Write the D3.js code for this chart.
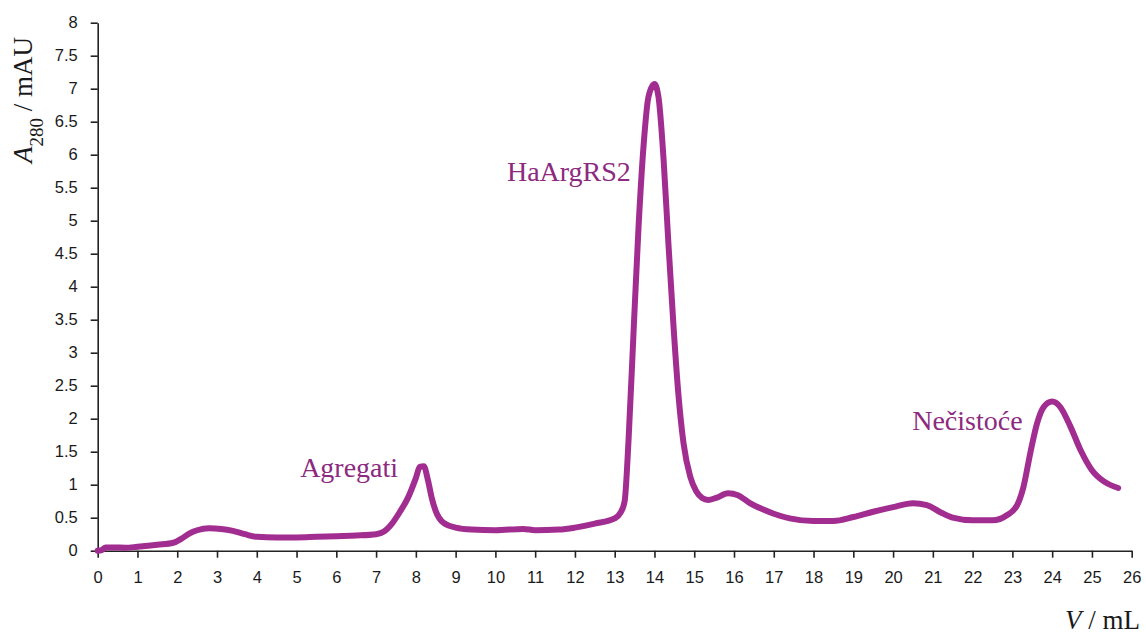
<!DOCTYPE html>
<html>
<head>
<meta charset="utf-8">
<script src="https://cdn.jsdelivr.net/npm/d3@7"></script>
<style>
  html, body { margin: 0; padding: 0; background: #fff; }
  svg { display: block; }
</style>
</head>
<body>
<svg id="chart" width="1146" height="637"></svg>
<script>
// Elution volume (mL)
const volume = [0, 0.1, 0.2, 0.4, 0.7, 1.0, 1.5, 1.9, 2.1, 2.3, 2.5, 2.8, 3.1, 3.4, 3.7, 4.0, 4.5, 5.0, 5.5, 6.0, 6.5, 7.0, 7.2, 7.4, 7.6, 7.8, 8.0, 8.1, 8.2, 8.3, 8.4, 8.5, 8.7, 9.0, 9.4, 10.0, 10.7, 11.0, 11.6, 12.0, 12.5, 13.0, 13.15, 13.25, 13.35, 13.48, 13.6, 13.73, 13.85, 14.0, 14.1, 14.23, 14.35, 14.48, 14.6, 14.73, 14.9, 15.05, 15.2, 15.35, 15.55, 15.85, 16.1, 16.4, 16.75, 17.0, 17.4, 18.0, 18.5, 19.0, 19.5, 20.0, 20.5, 20.85, 21.2, 21.5, 22.0, 22.5, 22.87, 23.12, 23.28, 23.45, 23.62, 23.79, 24.0, 24.2, 24.46, 24.71, 25.0, 25.3, 25.66];
// Absorbance A280 (mAU)
const absorbance = [0, 0.01, 0.05, 0.05, 0.045, 0.06, 0.09, 0.12, 0.18, 0.26, 0.31, 0.34, 0.33, 0.30, 0.25, 0.21, 0.20, 0.20, 0.21, 0.22, 0.23, 0.25, 0.29, 0.41, 0.59, 0.80, 1.10, 1.27, 1.28, 1.08, 0.80, 0.60, 0.42, 0.35, 0.32, 0.31, 0.33, 0.31, 0.32, 0.35, 0.41, 0.49, 0.58, 0.75, 1.7, 3.39, 4.91, 6.17, 6.88, 7.07, 6.88, 5.92, 4.66, 3.39, 2.38, 1.63, 1.12, 0.90, 0.80, 0.77, 0.80, 0.87, 0.84, 0.72, 0.62, 0.56, 0.49, 0.45, 0.45, 0.51, 0.59, 0.66, 0.72, 0.69, 0.58, 0.50, 0.46, 0.46, 0.54, 0.69, 0.97, 1.48, 1.93, 2.18, 2.26, 2.18, 1.88, 1.53, 1.22, 1.05, 0.95];

const xTicks = d3.range(0, 27, 1);
const yTicks = [0, 0.5, 1, 1.5, 2, 2.5, 3, 3.5, 4, 4.5, 5, 5.5, 6, 6.5, 7, 7.5, 8];

const peakLabels = ["Agregati", "HaArgRS2", "Nečistoće"];
const peakLabelVol = [5.09, 10.29, 20.48];
const peakLabelAbs = [1.12, 5.60, 1.83];

const svg = d3.select("#chart");
const x = d3.scaleLinear().domain([0, 26]).range([97.7, 1131.7]);
const y = d3.scaleLinear().domain([0, 8]).range([550.7, 22.7]);

const lineColor = "#a22d91";
const labelColor = "#8c2a7f";

// X axis
const xAxis = svg.append("g")
  .attr("transform", `translate(0,${y(0)})`)
  .call(d3.axisBottom(x).tickValues(xTicks).tickFormat(d3.format("d")).tickSize(7).tickPadding(14).tickSizeOuter(0));
// Y axis
const yAxis = svg.append("g")
  .attr("transform", `translate(${x(0)},0)`)
  .call(d3.axisLeft(y).tickValues(yTicks).tickFormat(d => String(d)).tickSize(7).tickPadding(13).tickSizeOuter(0));

[xAxis, yAxis].forEach(g => {
  g.select(".domain").attr("stroke", "#222").attr("stroke-width", 1.6);
  g.selectAll(".tick line").attr("stroke", "#222").attr("stroke-width", 1.6);
  g.selectAll(".tick text")
    .attr("fill", "#1a1a1a")
    .style("font-family", "'Liberation Sans', Arial, sans-serif")
    .style("font-size", "16.5px");
});

// Curve
const pts = volume.map((v, i) => [v, absorbance[i]]);
const line = d3.line().x(d => x(d[0])).y(d => y(d[1])).curve(d3.curveMonotoneX);
svg.append("path")
  .datum(pts)
  .attr("d", line)
  .attr("fill", "none")
  .attr("stroke", lineColor)
  .attr("stroke-width", 6)
  .attr("stroke-linejoin", "round")
  .attr("stroke-linecap", "round");

// Peak labels
svg.append("g").selectAll("text")
  .data(peakLabels)
  .join("text")
  .attr("x", (d, i) => x(peakLabelVol[i]))
  .attr("y", (d, i) => y(peakLabelAbs[i]))
  .attr("text-anchor", "start")
  .attr("fill", labelColor)
  .style("font-family", "'Liberation Serif', 'Times New Roman', serif")
  .style("font-size", "28px")
  .text(d => d);

// Y axis title
const yt = svg.append("text")
  .attr("transform", "translate(32,100) rotate(-90)")
  .attr("text-anchor", "middle")
  .attr("fill", "#1a1a1a")
  .style("font-family", "'Liberation Serif', 'Times New Roman', serif")
  .style("font-size", "27px");
yt.append("tspan").style("font-style", "italic").text("A");
yt.append("tspan").attr("baseline-shift", "sub").style("font-size", "19px").text("280");
yt.append("tspan").text(" / mAU");

// X axis title
const xt = svg.append("text")
  .attr("x", 1140)
  .attr("y", 629)
  .attr("text-anchor", "end")
  .attr("fill", "#1a1a1a")
  .style("font-family", "'Liberation Serif', 'Times New Roman', serif")
  .style("font-size", "27px");
xt.append("tspan").style("font-style", "italic").text("V");
xt.append("tspan").text(" / mL");
</script>
</body>
</html>
